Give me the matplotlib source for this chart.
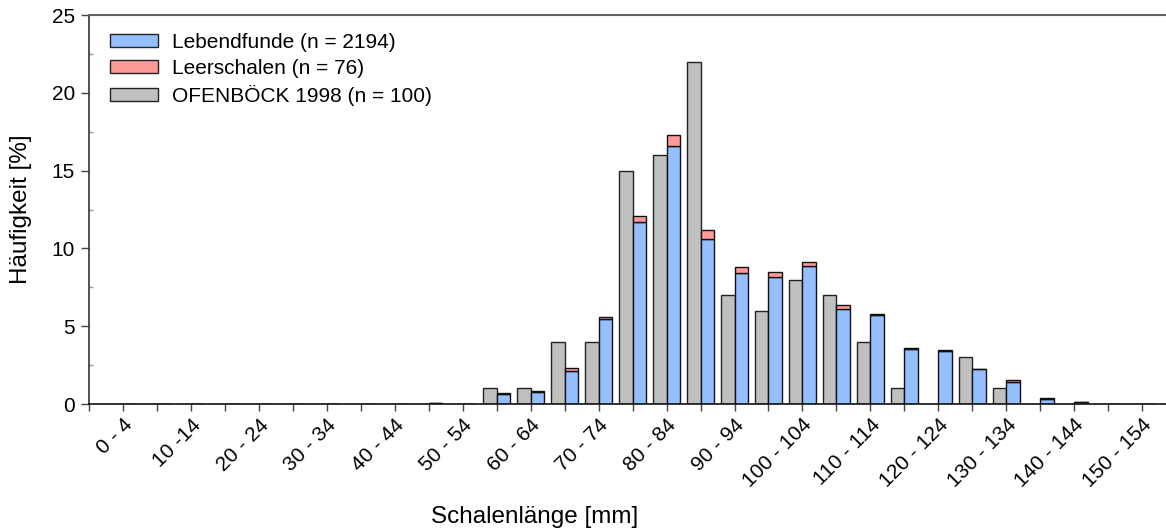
import numpy as np
import matplotlib.pyplot as plt
from matplotlib.patches import Patch
from matplotlib.ticker import MultipleLocator

plt.rcParams['font.family'] = ['Liberation Sans', 'DejaVu Sans']

# Größenklassen 0-4 ... 150-154 mm
klassen = ["0 - 4", "5 - 9", "10 -14", "15 - 19", "20 - 24", "25 - 29", "30 - 34", "35 - 39",
           "40 - 44", "45 - 49", "50 - 54", "55 - 59", "60 - 64", "65 - 69", "70 - 74", "75 - 79",
           "80 - 84", "85 - 89", "90 - 94", "95 - 99", "100 - 104", "105 - 109", "110 - 114",
           "115 - 119", "120 - 124", "125 - 129", "130 - 134", "135 - 139", "140 - 144",
           "145 - 149", "150 - 154"]

# Häufigkeiten in %
lebend = [0, 0, 0, 0, 0, 0, 0, 0, 0, 0.05, 0, 0.65, 0.75, 2.1, 5.45, 11.7, 16.55, 10.6, 8.45,
          8.15, 8.85, 6.1, 5.75, 3.55, 3.4, 2.25, 1.42, 0.3, 0.1, 0, 0]
leer = [0, 0, 0, 0, 0, 0, 0, 0, 0, 0, 0, 0.05, 0.1, 0.2, 0.15, 0.4, 0.75, 0.6, 0.35,
        0.35, 0.25, 0.25, 0.03, 0.03, 0.05, 0, 0.1, 0.1, 0, 0, 0]
ofenboeck = [0, 0, 0, 0, 0, 0, 0, 0, 0, 0, 0, 1, 1, 4, 4, 15, 16, 22, 7,
             6, 8, 7, 4, 1, 0, 3, 1, 0, 0, 0, 0]

c_lebend = '#96bfff'
c_leer = '#ff9a9a'
c_ofen = '#c0c0c0'

x = np.arange(len(klassen))
w = 0.4

fig = plt.figure(figsize=(11.66, 5.32), dpi=100)
ax = fig.add_axes([0.0763, 0.2406, 0.9237, 0.7312])

ax.bar(x, ofenboeck, width=-w, align='edge', color=c_ofen, edgecolor='#222222', linewidth=1.0)
ax.bar(x, lebend, width=w, align='edge', color=c_lebend, edgecolor='#111111', linewidth=1.0)
ax.bar(x, leer, width=w, align='edge', bottom=lebend, color=c_leer, edgecolor='#111111', linewidth=1.0)

ax.set_xlim(-1, 30.7)
ax.set_ylim(0, 25)

ticks = np.arange(-1, len(klassen))
ax.set_xticks(ticks)
labels = [""] + [k if i % 2 == 0 else "" for i, k in enumerate(klassen)]
ax.set_xticklabels(labels, rotation=45, ha='right', rotation_mode='anchor', fontsize=15)
ax.tick_params(axis='x', length=5, width=1, color='#444444', pad=3)

ax.set_yticks([0, 5, 10, 15, 20, 25])
ax.yaxis.set_minor_locator(MultipleLocator(2.5))
ax.tick_params(axis='y', which='major', length=6, width=1, labelsize=15, color='#444444', pad=4)
ax.tick_params(axis='y', which='minor', length=3, width=1, direction='in', color='#999999')

ax.spines['right'].set_visible(False)
ax.spines['top'].set_color('#666666')
ax.spines['top'].set_linewidth(1.5)
ax.spines['left'].set_color('#333333')
ax.spines['bottom'].set_color('#111111')
ax.spines['left'].set_linewidth(1.2)
ax.spines['bottom'].set_linewidth(1.2)

ax.set_xlabel('Schalenlänge [mm]', fontsize=17.5)
ax.xaxis.set_label_coords(0.414, -0.262)
ax.set_ylabel('Häufigkeit [%]', fontsize=17.5)
ax.yaxis.set_label_coords(-0.053, 0.5)

handles = [Patch(facecolor=c_lebend, edgecolor='#222222', linewidth=1),
           Patch(facecolor=c_leer, edgecolor='#222222', linewidth=1),
           Patch(facecolor=c_ofen, edgecolor='#222222', linewidth=1)]
ax.legend(handles, ['Lebendfunde (n = 2194)', 'Leerschalen (n = 76)', 'OFENBÖCK 1998 (n = 100)'],
          loc='upper left', bbox_to_anchor=(0.0195, 0.955), frameon=False, fontsize=15,
          handlelength=2.3, handleheight=0.58, handletextpad=0.67, labelspacing=0.35,
          borderpad=0, borderaxespad=0)

plt.savefig('out.png', dpi=100)
